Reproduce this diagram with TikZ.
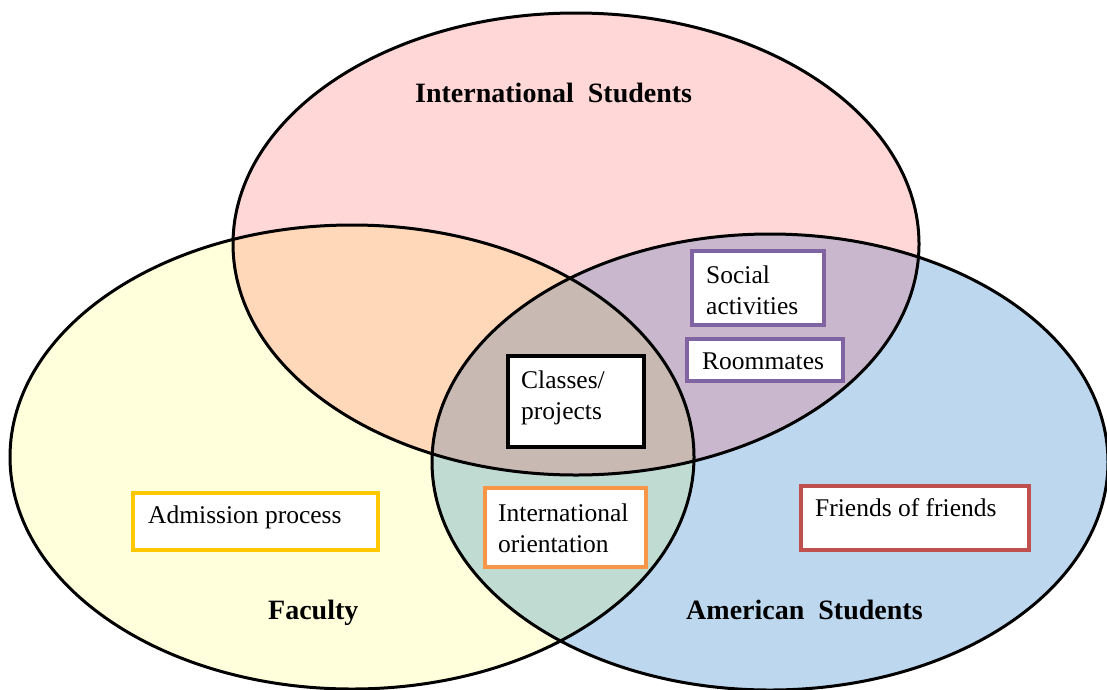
\documentclass[tikz,border=0pt]{standalone}
\usepackage{fontspec}
\setmainfont{Liberation Serif}
\usetikzlibrary{calc}
\definecolor{pinkc}{RGB}{255,215,215}
\definecolor{yellowc}{RGB}{255,255,220}
\definecolor{bluec}{RGB}{189,215,238}
\definecolor{peachc}{RGB}{255,215,185}
\definecolor{mauvec}{RGB}{200,183,205}
\definecolor{sagec}{RGB}{192,219,210}
\definecolor{centerc}{RGB}{200,185,178}
\definecolor{boxyellow}{RGB}{255,200,0}
\definecolor{boxpurple}{RGB}{128,100,162}
\definecolor{boxorange}{RGB}{247,150,70}
\definecolor{boxred}{RGB}{192,80,77}
\tikzset{
  topE/.style={insert path={(576,244) ellipse [x radius=343pt, y radius=231pt]}},
  leftE/.style={insert path={(352,457) ellipse [x radius=342pt, y radius=232pt]}},
  rightE/.style={insert path={(770,462) ellipse [x radius=338pt, y radius=228pt]}},
  outline/.style={draw=black, line width=3pt},
  itembox/.style={draw=#1, line width=4pt, fill=white, rectangle, inner sep=0pt, anchor=north west},
  itemtxt/.style={anchor=base west, inner sep=0pt, font=\fontsize{25.5}{31}\selectfont},
  settxt/.style={anchor=base west, inner sep=0pt, font=\fontsize{28}{33}\selectfont\bfseries},
}
\begin{document}
\begin{tikzpicture}[x=1pt, y=-1pt]
\useasboundingbox (0,0) rectangle (1107,689);
% fills
\fill[pinkc, topE];
\fill[yellowc, leftE];
\fill[bluec, rightE];
\begin{scope}\clip[topE]; \fill[peachc, leftE]; \end{scope}
\begin{scope}\clip[topE]; \fill[mauvec, rightE]; \end{scope}
\begin{scope}\clip[leftE]; \fill[sagec, rightE]; \end{scope}
\begin{scope}\clip[topE]; \clip[leftE]; \fill[centerc, rightE]; \end{scope}
% outlines
\draw[outline, topE];
\draw[outline, leftE];
\draw[outline, rightE];
% set labels
\node[settxt] (intl) at (415,102) {International\ \ Students};
\node[settxt] (fac) at (268,619) {Faculty};
\node[settxt] (amer) at (686,619) {American\ \ Students};
% boxes
\node[itembox=boxyellow, minimum width=245pt, minimum height=57pt] (adm) at (131,491) {};
\node[itemtxt] (admt) at ($(adm.north west)+(17,32)$) {Admission process};

\node[itembox=black, minimum width=136pt, minimum height=91pt] (cls) at (506,354) {};
\node[itemtxt] (clst1) at ($(cls.north west)+(15,34)$) {Classes/};
\node[itemtxt] (clst2) at ($(cls.north west)+(15,65)$) {projects};

\node[itembox=boxpurple, minimum width=132pt, minimum height=74pt] (soc) at (690,249) {};
\node[itemtxt] (soct1) at ($(soc.north west)+(16,34)$) {Social};
\node[itemtxt] (soct2) at ($(soc.north west)+(16,65)$) {activities};

\node[itembox=boxpurple, minimum width=156pt, minimum height=42pt] (room) at (685,337) {};
\node[itemtxt] (roomt) at ($(room.north west)+(17,32)$) {Roommates};

\node[itembox=boxorange, minimum width=161pt, minimum height=79pt] (ori) at (483,486) {};
\node[itemtxt] (orit1) at ($(ori.north west)+(15,35)$) {International};
\node[itemtxt] (orit2) at ($(ori.north west)+(15,66)$) {orientation};

\node[itembox=boxred, minimum width=228pt, minimum height=64pt] (fri) at (799,484) {};
\node[itemtxt] (frit) at ($(fri.north west)+(16,32)$) {Friends of friends};
\end{tikzpicture}
\end{document}
